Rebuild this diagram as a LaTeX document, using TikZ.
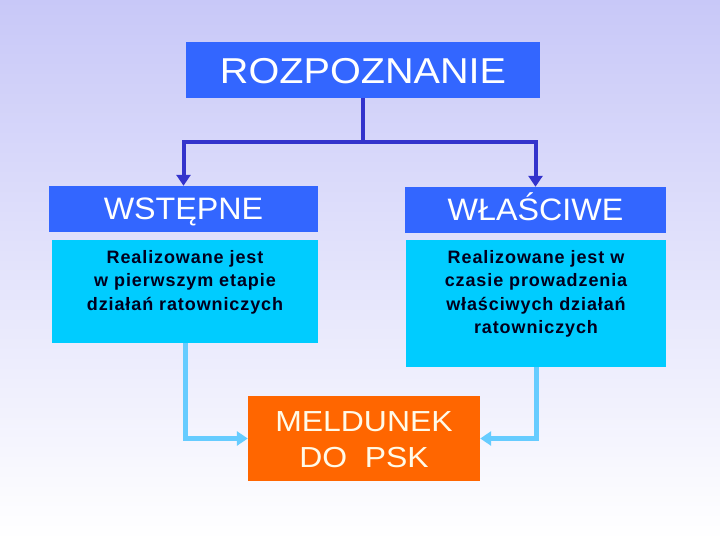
\documentclass[tikz,border=0pt]{standalone}
\usepackage{fontspec}
\setmainfont{Liberation Sans}
\usetikzlibrary{arrows.meta}
\definecolor{bgtop}{RGB}{200,200,248}
\definecolor{boxblue}{RGB}{51,102,255}
\definecolor{boxcyan}{RGB}{0,204,255}
\definecolor{boxorange}{RGB}{255,102,0}
\definecolor{conndark}{RGB}{51,51,204}
\definecolor{connlight}{RGB}{102,204,255}
\definecolor{creamtext}{RGB}{255,250,232}
\definecolor{smalltext}{RGB}{0,0,30}
\tikzset{
  rectbox/.style={rectangle, draw=none, inner sep=0pt},
  bluebox/.style={rectbox, fill=boxblue},
  cyanbox/.style={rectbox, fill=boxcyan},
  orangebox/.style={rectbox, fill=boxorange},
  titletext/.style={inner sep=0pt, anchor=base, text=white,
    font=\addfontfeature{FakeStretch=1.1}\fontsize{36}{40}\selectfont},
  headtext/.style={inner sep=0pt, anchor=base, text=white,
    font=\addfontfeature{FakeStretch=1.04}\fontsize{31}{34}\selectfont},
  smalltxt/.style={inner sep=0pt, anchor=north, align=center, text=smalltext,
    font=\bfseries\addfontfeature{LetterSpace=5}\fontsize{18}{23.5}\selectfont},
  meltext/.style={inner sep=0pt, anchor=base, text=creamtext,
    font=\addfontfeature{FakeStretch=1.1}\fontsize{29}{36}\selectfont},
  darkconn/.style={draw=conndark, line width=4pt,
    -{Triangle[width=14pt,length=11pt]}},
  lightconn/.style={draw=connlight, line width=5pt,
    -{Triangle[width=14pt,length=11pt]}},
}
\begin{document}
\begin{tikzpicture}[x=1pt,y=-1pt]
\useasboundingbox (0,0) rectangle (720,540);
\shade[top color=bgtop, bottom color=white] (0,0) rectangle (720,540);

% boxes
\node[bluebox, minimum width=354pt, minimum height=56pt] (roz) at (363,70) {};
\node[bluebox, minimum width=269pt, minimum height=46pt] (wst) at (183.5,209) {};
\node[bluebox, minimum width=261pt, minimum height=46pt] (wla) at (535.5,210) {};
\node[cyanbox, minimum width=266pt, minimum height=103pt] (cl) at (185,291.5) {};
\node[cyanbox, minimum width=260pt, minimum height=127pt] (cr) at (536,303.5) {};
\node[orangebox, minimum width=232pt, minimum height=85pt] (mel) at (364,438.5) {};

% texts
\node[titletext] (troz) at (363,84) {ROZPOZNANIE};
\node[headtext] (twst) at (183.5,220) {WSTĘPNE};
\node[headtext] (twla) at (535.5,221) {WŁAŚCIWE};
\node[smalltxt] (tcl) at (185,250) {Realizowane jest\\w pierwszym etapie\\działań ratowniczych};
\node[smalltxt] (tcr) at (536,250) {Realizowane jest w\\czasie prowadzenia\\właściwych działań\\ratowniczych};
\node[meltext] (tmel1) at (364,431) {MELDUNEK};
\node[meltext] (tmel2) at (364,467) {DO~ PSK};

% connectors
\draw[darkconn] (roz.south) -- ++(0,44) -| (wst.north);
\draw[darkconn] (roz.south) -- ++(0,44) -| (wla.north);
\draw[lightconn] (cl.south) |- (mel.west);
\draw[lightconn] (cr.south) |- (mel.east);
\end{tikzpicture}
\end{document}
